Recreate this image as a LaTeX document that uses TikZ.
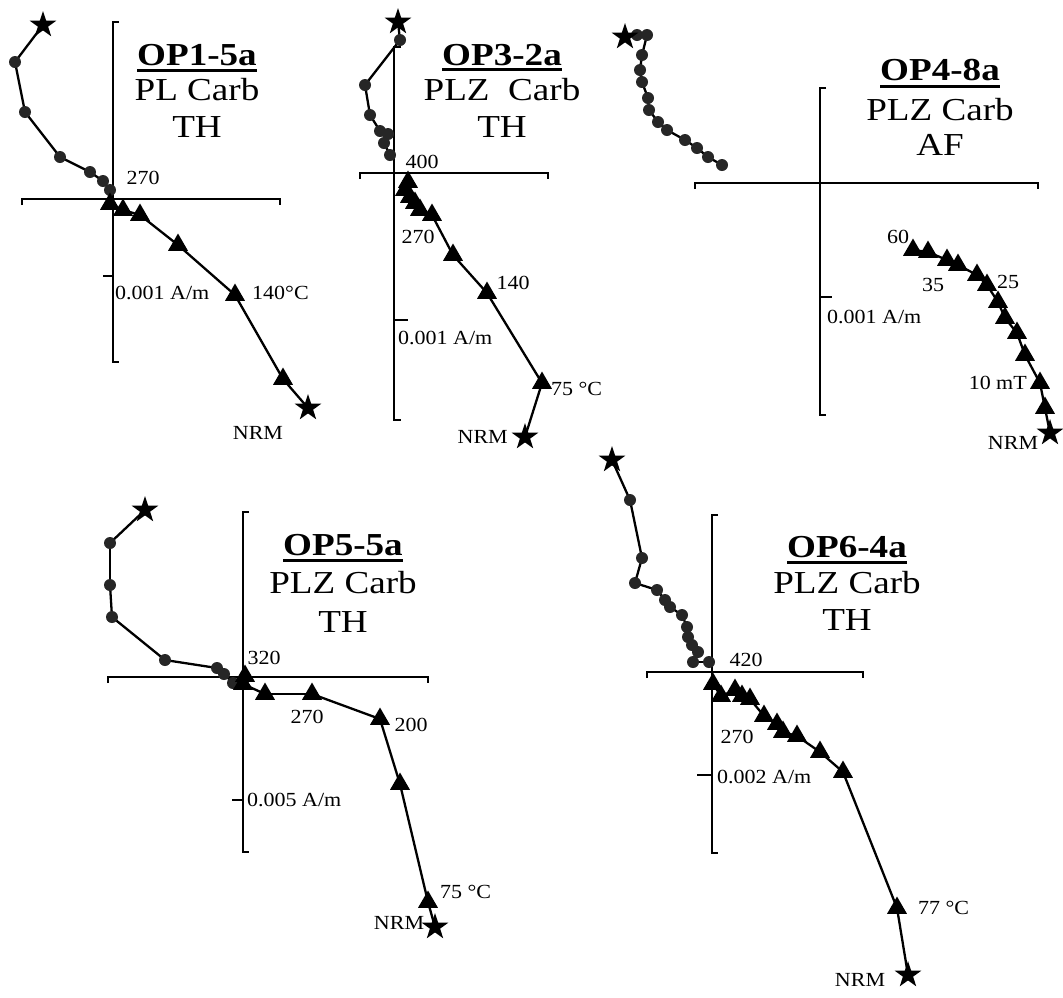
\documentclass[tikz,border=0pt]{standalone}
\usepackage{fontspec}
\setmainfont{Liberation Serif}
\newfontfamily\ttlfont[FakeStretch=1.16]{Liberation Serif}
\newfontfamily\lblfont[FakeStretch=1.1]{Liberation Serif}
\usetikzlibrary{shapes.geometric}
\tikzset{
  axisln/.style={line width=2.3pt, line join=miter},
  dline/.style={line width=2.3pt, line cap=round},
  dotm/.style={circle, fill=black!85, draw=none, minimum size=12pt, inner sep=0pt},
  trim/.style={regular polygon, regular polygon sides=3, fill=black, draw=none, minimum size=23pt, inner sep=0pt},
  starm/.style={star, star points=5, star point ratio=2.6, fill=black, draw=none, minimum size=28pt, inner sep=0pt},
  lbl/.style={font=\lblfont\fontsize{20}{20}\selectfont, inner sep=0pt},
  ttl/.style={font=\ttlfont\fontsize{32}{32}\selectfont, inner sep=0pt, anchor=base},
  uline/.style={line width=2.3pt},
}
\newcommand\zdtrace[2]{%
  \foreach \xa/\ya [count=\ia] in {#2} {\coordinate (#1\ia) at (\xa,\ya); \xdef\zdtracen{\ia}}%
  \foreach \ja [remember=\ja as \ka (initially 1)] in {2,...,\zdtracen} {\draw[dline] (#1\ka) -- (#1\ja);}%
}
\newcommand\zdmarks[4]{%
  \foreach \ja in {#2,...,#3} {\node[#4] (#1m\ja) at (#1\ja) {};}%
}
\begin{document}
\begin{tikzpicture}[x=1pt, y=-1pt]
\useasboundingbox (0,0) rectangle (1063,997);
\fill[white] (0,0) rectangle (1063,997);

% ================= Panel 1: OP1-5a =================
\draw[axisln] (119,22) -- (113,22) -- (113,362) -- (119,362);
\draw[axisln] (22,205) -- (22,199) -- (280,199) -- (280,205);
\draw[axisln] (103,276) -- (113,276);
\zdtrace{pa}{43/25,15/62,25/112,60/157,90/172,103/181,110/190}
\zdtrace{pb}{110/204,123/210,140/215,178/245,235/295,283/379,308/408}
\node[starm] (pas) at (pa1) {};
\zdmarks{pa}{2}{7}{dotm}
\zdmarks{pb}{1}{6}{trim}
\node[starm] (pbs) at (pb7) {};
\node[lbl] (pl1) at (143,178) {270};
\node[lbl, anchor=west] (pl2) at (115,293) {0.001 A/m};
\node[lbl, anchor=west] (pl3) at (252,293) {140°C};
\node[lbl] (pl4) at (258,433) {NRM};
\node[ttl] (pt1) at (197,65) {\bfseries OP1-5a};
\draw[uline] ([yshift=-5pt]pt1.south west) -- ([yshift=-5pt]pt1.south east);
\node[ttl] (pt2) at (197,100) {PL Carb};
\node[ttl] (pt3) at (197,137) {TH};

% ================= Panel 2: OP3-2a =================
\draw[axisln] (401,47) -- (394,47) -- (394,420) -- (401,420);
\draw[axisln] (360,179) -- (360,173) -- (548,173) -- (548,179);
\draw[axisln] (394,320) -- (408,320);
\zdtrace{qa}{398/22,400/40,365/85,370/115,380/131,388/134,384/143,390/155}
\zdtrace{qb}{408/182,405/190,410/197,415/203,420/210,432/215,453/255,487/293,542/383,525/437}
\node[starm] (qas) at (qa1) {};
\zdmarks{qa}{2}{8}{dotm}
\zdmarks{qb}{1}{9}{trim}
\node[starm] (qbs) at (qb10) {};
\node[lbl] (ql1) at (422,162) {400};
\node[lbl] (ql2) at (418,237) {270};
\node[lbl] (ql3) at (513,283) {140};
\node[lbl, anchor=west] (ql4) at (398,338) {0.001 A/m};
\node[lbl, anchor=west] (ql5) at (551,389) {75 °C};
\node[lbl, anchor=east] (ql6) at (508,437) {NRM};
\node[ttl] (qt1) at (502,65) {\bfseries OP3-2a};
\draw[uline] ([yshift=-4pt]qt1.south west) -- ([yshift=-4pt]qt1.south east);
\node[ttl] (qt2) at (502,100) {PLZ\ \ Carb};
\node[ttl] (qt3) at (502,137) {TH};

% ================= Panel 3: OP4-8a =================
\draw[axisln] (826,88) -- (820,88) -- (820,415) -- (826,415);
\draw[axisln] (695,189) -- (695,183) -- (1038,183) -- (1038,189);
\draw[axisln] (820,297) -- (832,297);
\zdtrace{ra}{625/37,637/35,647/35,642/55,640/70,642/82,648/98,649/110,658/122,667/130,685/140,697/148,708/157,722/165}
\zdtrace{rb}{913/250,928/252,947/260,958/265,977/275,987/285,998/302,1005/318,1017/333,1025/355,1040/383,1045/408,1050/433}
\zdmarks{ra}{2}{14}{dotm}
\node[starm] (ras) at (ra1) {};
\zdmarks{rb}{1}{12}{trim}
\node[starm] (rbs) at (rb13) {};
\node[lbl] (rl1) at (898,237) {60};
\node[lbl] (rl2) at (933,285) {35};
\node[lbl] (rl3) at (1008,282) {25};
\node[lbl, anchor=east] (rl4) at (1027,383) {10 mT};
\node[lbl] (rl5) at (1013,443) {NRM};
\node[lbl, anchor=west] (rl6) at (827,317) {0.001 A/m};
\node[ttl] (rt1) at (940,80) {\bfseries OP4-8a};
\draw[uline] ([yshift=-6pt]rt1.south west) -- ([yshift=-6pt]rt1.south east);
\node[ttl] (rt2) at (940,120) {PLZ Carb};
\node[ttl] (rt3) at (940,155) {AF};

% ================= Panel 5: OP5-5a =================
\draw[axisln] (249,512) -- (243,512) -- (243,852) -- (249,852);
\draw[axisln] (108,683) -- (108,677) -- (428,677) -- (428,683);
\draw[axisln] (232,800) -- (243,800);
\zdtrace{sa}{145/510,110/543,110/585,112/617,165/660,217/668,224/674,233/683}
\zdtrace{sb}{245/676,243/684,265/694,312/694,380/719,400/784,428/902,435/927}
\node[starm] (sas) at (sa1) {};
\zdmarks{sa}{2}{8}{dotm}
\zdmarks{sb}{1}{7}{trim}
\node[starm] (sbs) at (sb8) {};
\node[lbl] (sl1) at (264,658) {320};
\node[lbl] (sl2) at (307,717) {270};
\node[lbl] (sl3) at (411,725) {200};
\node[lbl, anchor=west] (sl4) at (247,800) {0.005 A/m};
\node[lbl, anchor=west] (sl5) at (440,892) {75 °C};
\node[lbl] (sl6) at (399,923) {NRM};
\node[ttl] (st1) at (343,555) {\bfseries OP5-5a};
\draw[uline] ([yshift=-5pt]st1.south west) -- ([yshift=-5pt]st1.south east);
\node[ttl] (st2) at (343,593) {PLZ Carb};
\node[ttl] (st3) at (343,632) {TH};

% ================= Panel 6: OP6-4a =================
\draw[axisln] (718,515) -- (712,515) -- (712,853) -- (718,853);
\draw[axisln] (647,678) -- (647,672) -- (863,672) -- (863,678);
\draw[axisln] (697,775) -- (712,775);
\zdtrace{ta}{612/460,630/500,642/558,635/583,657/590,665/600,670/607,682/615,687/627,688/637,692/645,698/652,693/662,709/662}
\zdtrace{tb}{713/684,721/696,735/690,742/696,750/699,764/716,777/724,783/732,797/736,820/752,843/772,897/908,908/975}
\node[starm] (tas) at (ta1) {};
\zdmarks{ta}{2}{14}{dotm}
\zdmarks{tb}{1}{12}{trim}
\node[starm] (tbs) at (tb13) {};
\node[lbl] (tl1) at (746,660) {420};
\node[lbl] (tl2) at (737,737) {270};
\node[lbl, anchor=west] (tl3) at (717,777) {0.002 A/m};
\node[lbl, anchor=west] (tl4) at (918,908) {77 °C};
\node[lbl] (tl5) at (860,980) {NRM};
\node[ttl] (tt1) at (847,557) {\bfseries OP6-4a};
\draw[uline] ([yshift=-5pt]tt1.south west) -- ([yshift=-5pt]tt1.south east);
\node[ttl] (tt2) at (847,593) {PLZ Carb};
\node[ttl] (tt3) at (847,630) {TH};
\end{tikzpicture}
\end{document}
